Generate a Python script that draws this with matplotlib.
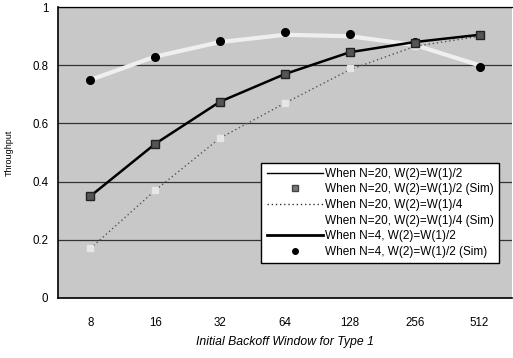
import matplotlib
matplotlib.use("Agg")
import matplotlib.pyplot as plt
from matplotlib.lines import Line2D

plt.rcParams['font.family'] = ['Liberation Sans', 'DejaVu Sans']

# Data
windows = ["8", "16", "32", "64", "128", "256", "512"]
n20_half = [0.35, 0.53, 0.675, 0.77, 0.845, 0.88, 0.905]
n20_half_sim = [0.35, 0.53, 0.675, 0.77, 0.845, 0.878, 0.905]
n20_quarter = [0.17, 0.37, 0.55, 0.67, 0.785, 0.865, 0.90]
n20_quarter_sim = [0.17, 0.37, 0.55, 0.67, 0.79, 0.865, 0.90]
n4_half = [0.75, 0.83, 0.88, 0.905, 0.90, 0.87, 0.80]
n4_half_sim = [0.75, 0.828, 0.883, 0.914, 0.907, 0.88, 0.794]

labels = ["When N=20, W(2)=W(1)/2",
          "When N=20, W(2)=W(1)/2 (Sim)",
          "When N=20, W(2)=W(1)/4",
          "When N=20, W(2)=W(1)/4 (Sim)",
          "When N=4, W(2)=W(1)/2",
          "When N=4, W(2)=W(1)/2 (Sim)"]

fig = plt.figure(figsize=(5.13, 3.58), dpi=100)
ax = fig.add_axes([0.113, 0.168, 0.885, 0.812])
ax.set_facecolor('#c8c8c8')
x = range(len(windows))

# curves
ax.plot(x, n4_half, color='#efefef', lw=3.0, zorder=2)
ax.plot(x, n20_quarter, color='#555555', lw=1.0, ls=(0, (1, 2)), zorder=3)
ax.plot(x, n20_quarter_sim, ls='none', marker='s', ms=4, mfc='#e6e6e6', mec='#e6e6e6', zorder=4)
ax.plot(x, n20_half, color='black', lw=1.8, zorder=5)
ax.plot(x, n4_half_sim, ls='none', marker='o', ms=5.5, color='black', zorder=6)
ax.plot(x, n20_half_sim, ls='none', marker='s', ms=5.5, mfc='#555555', mec='#222222', zorder=7)

ax.set_xlim(-0.5, len(windows) - 0.5)
ax.set_ylim(0, 1)
ax.set_xticks(list(x))
ax.set_xticklabels(windows)
ax.set_yticks([0, 0.2, 0.4, 0.6, 0.8, 1])
ax.set_yticklabels(["0", "0.2", "0.4", "0.6", "0.8", "1"])
ax.tick_params(axis='x', length=0, labelsize=8.3, pad=14)
ax.tick_params(axis='y', length=0, labelsize=8.3, pad=7)
ax.yaxis.grid(True, color='#333333', lw=0.9)
ax.set_axisbelow(True)
ax.spines['right'].set_visible(False)
ax.spines['top'].set_linewidth(0.9)
ax.spines['left'].set_linewidth(1.2)
ax.spines['bottom'].set_linewidth(1.2)

ax.set_ylabel("Throughput", fontsize=6.5)
ax.yaxis.set_label_coords(-0.097, 0.5)
ax.set_xlabel("Initial Backoff Window for Type 1", fontsize=8.8, style='italic', labelpad=5)

handles = [
    Line2D([], [], color='black', lw=1.0),
    Line2D([], [], ls='none', marker='s', ms=4, mfc='#777777', mec='#444444'),
    Line2D([], [], color='#333333', lw=1.0, ls=(0, (1, 2))),
    Line2D([], [], ls='none', marker='s', ms=4, mfc='white', mec='white'),
    Line2D([], [], color='black', lw=2.0),
    Line2D([], [], ls='none', marker='o', ms=4, color='black'),
]
leg = ax.legend(handles, labels, loc='lower right', bbox_to_anchor=(0.972, 0.12),
                fontsize=8.5, frameon=True, fancybox=False, framealpha=1,
                edgecolor='black', handlelength=4.8, labelspacing=0.3,
                handletextpad=0.15, borderpad=0.45, borderaxespad=0)
leg.get_frame().set_linewidth(1.0)

fig.savefig("out.png", dpi=100)
